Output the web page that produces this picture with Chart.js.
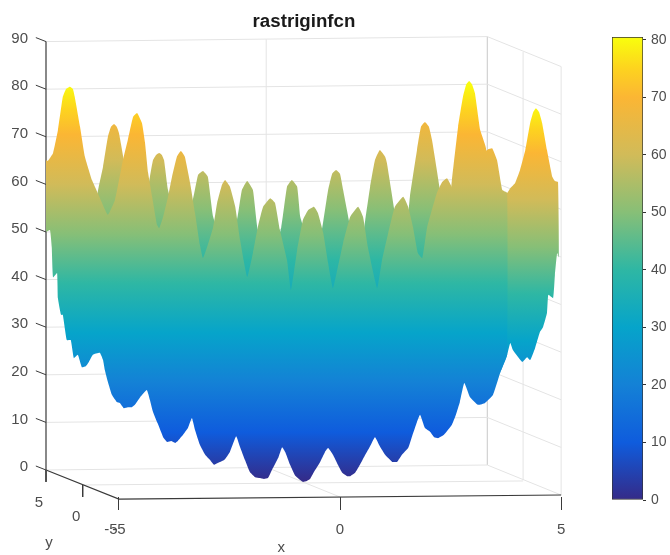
<!DOCTYPE html>
<html>
<head>
<meta charset="utf-8">
<title>rastriginfcn</title>
<script src="https://cdn.jsdelivr.net/npm/chart.js@4"></script>
<style>
  html, body { margin: 0; background: #fff; }
  #surface { position: absolute; left: 0; top: 0; }
  #colorbar { position: absolute; left: 608px; top: 0; }
</style>
</head>
<body>
<canvas id="surface" width="608" height="555"></canvas>
<canvas id="colorbar" width="62" height="555"></canvas>
<script>
// ticks
const zTicks = [0, 10, 20, 30, 40, 50, 60, 70, 80, 90];
const xTicks = [-5, 0, 5];
const colorTicks = [0, 10, 20, 30, 40, 50, 60, 70, 80];
const colorbarRange = [0, 80.5];

// labels of the depth axis (x position, z position)
const depthLabels = ['5', '0', '-5', 'y', 'x'];
const depthLabelX = [-6.81, -5.97, -5.18, -6.58, -1.33];
const depthLabelZ = [-6.9, -9.9, -12.6, -15.3, -16.4];

// front ridge and the whole lower outline of the surface
const frontX = [-6.65, -6.61, -6.49, -6.38, -6.27, -6.20, -6.11, -6.04, -6.00, -5.88, -5.77, -5.61, -5.48, -5.25, -5.09, -4.91, -4.80, -4.68, -4.59, -4.48, -4.41, -4.34, -4.25, -4.14, -4.09, -4.00, -3.89, -3.80, -3.69, -3.60, -3.51, -3.39, -3.28, -3.17, -3.10, -2.99, -2.87, -2.78, -2.67, -2.60, -2.49, -2.37, -2.26, -2.10, -1.97, -1.86, -1.74, -1.58, -1.47, -1.36, -1.20, -1.11, -0.97, -0.84, -0.72, -0.59, -0.50, -0.38, -0.27, -0.16, -0.05, 0.07, 0.23, 0.41, 0.52, 0.63, 0.84, 0.95, 1.09, 1.24, 1.43, 1.54, 1.65, 1.76, 1.86, 1.97, 2.19, 2.31, 2.42, 2.56, 2.67, 2.78, 2.90, 3.10, 3.24, 3.35, 3.44, 3.55, 3.67, 3.78,
  3.78, 3.62, 3.46, 3.28, 3.12, 2.94, 2.81, 2.71, 2.62, 2.53, 2.35, 2.22, 2.13, 2.04, 1.92, 1.81, 1.74, 1.63, 1.54, 1.40, 1.29, 1.18, 1.09, 1.02, 0.90, 0.79, 0.68, 0.57, 0.45, 0.34, 0.23, 0.16, 0.05, -0.05, -0.16, -0.27, -0.34, -0.45, -0.59, -0.68, -0.75, -0.84, -0.90, -1.02, -1.13, -1.24, -1.31, -1.40, -1.54, -1.63, -1.72, -1.81, -1.92, -2.04, -2.15, -2.26, -2.35, -2.49, -2.62, -2.76, -2.85, -2.94, -3.05, -3.17, -3.28, -3.35, -3.44, -3.55, -3.67, -3.73, -3.82, -3.91, -4.00, -4.12, -4.23, -4.30, -4.37, -4.52, -4.64, -4.71, -4.80, -4.89, -4.98, -5.05, -5.16, -5.25, -5.32, -5.36, -5.43, -5.59, -5.68, -5.75, -5.84, -5.93, -6.02, -6.09, -6.18, -6.27, -6.31, -6.38, -6.40, -6.49, -6.52, -6.56, -6.65];
const frontZ = [65.1, 64.9, 66.6, 71.4, 78.4, 80.0, 80.5, 80.0, 78.4, 72.1, 65.8, 60.9, 58.2, 53.6, 56.7, 65.1, 69.3, 74.2, 75.0, 72.9, 68.7, 62.4, 57.4, 51.5, 50.8, 53.2, 57.4, 61.6, 65.8, 67.0, 65.8, 60.3, 54.0, 47.3, 44.5, 47.3, 51.0, 56.1, 59.9, 60.9, 59.5, 55.3, 48.3, 40.5, 45.6, 51.0, 55.3, 57.1, 56.1, 50.4, 44.1, 37.8, 46.2, 52.5, 54.6, 55.3, 54.0, 49.8, 43.5, 38.2, 42.6, 47.7, 53.2, 55.3, 53.2, 46.8, 38.2, 44.1, 49.8, 55.3, 57.4, 55.3, 51.0, 45.6, 44.5, 51.0, 58.2, 60.5, 61.3, 58.8, 53.2, 49.8, 53.2, 60.9, 66.6, 67.4, 67.6, 65.1, 58.8, 58.2,
  24.2, 20.4, 15.8, 14.1, 13.7, 15.3, 18.3, 14.3, 11.6, 9.5, 7.4, 6.7, 6.9, 8.0, 8.8, 11.6, 10.1, 7.1, 4.6, 3.2, 1.7, 1.7, 2.5, 3.2, 5.0, 6.9, 5.0, 3.2, 1.1, -0.6, -1.3, -1.3, -0.6, 1.1, 3.2, 4.6, 3.8, 1.7, -0.4, -1.9, -2.3, -2.5, -2.1, -1.1, 1.1, 3.8, 4.8, 2.5, 0, -1.7, -1.9, -1.7, -1.5, -0.4, 2.1, 4.8, 7.1, 3.8, 2.1, 1.5, 1.1, 2.1, 3.2, 5.3, 8.4, 10.9, 8.8, 7.4, 6.1, 5.7, 6.1, 5.9, 6.9, 9.7, 12.2, 14.7, 16.8, 15.3, 13.7, 13.2, 13.2, 13.0, 14.1, 14.3, 15.8, 18.5, 21.0, 23.1, 24.6, 24.2, 22.7, 21.8, 21.6, 24.2, 23.5, 27.3, 27.3, 32.6, 32.6, 36.1, 41.4, 40.5, 46.8, 50.4, 50.0];

// right hand lobe
const rightX = [3.62, 3.78, 3.85, 3.96, 4.07, 4.19, 4.30, 4.37, 4.43, 4.50, 4.57, 4.68, 4.80, 4.86, 4.93, 4.95, 4.91, 4.86, 4.82, 4.71, 4.68, 4.59, 4.52, 4.41, 4.30, 4.23, 4.12, 3.91, 3.85, 3.78, 3.62];
const rightZ = [56.7, 58.2, 59.2, 60.3, 63.0, 67.2, 72.9, 75.2, 76.0, 75.2, 72.9, 67.2, 61.6, 60.7, 60.5, 44.7, 45.6, 41.0, 36.1, 36.8, 33.0, 30.0, 29.0, 25.6, 23.1, 23.7, 22.7, 25.2, 26.7, 24.2, 20.4];

// tallest peak behind the front ridge
const peakX = [2.38, 2.53, 2.67, 2.78, 2.85, 2.92, 2.99, 3.05, 3.17, 3.30, 3.44, 2.94];
const peakZ = [46.2, 60.9, 72.1, 78.4, 80.9, 81.7, 80.9, 79.2, 71.4, 67.6, 46.2, 25.2];

// back ridge
const backX = [-5.52, -5.48, -5.36, -5.25, -5.18, -5.11, -5.05, -5.00, -4.89, -4.75, -4.52, -4.30, -4.23, -4.16, -4.09, -4.03, -3.98, -3.89, -3.60, -3.33, -3.21, -3.10, -2.99, -2.87, -2.60, -2.33, -2.22, -2.10, -1.97, -1.86, -1.58, -1.33, -1.20, -1.09, -0.97, -0.90, -0.79, -0.59, -0.41, -0.27, -0.18, -0.09, 0, 0.07, 0.23, 0.41, 0.57, 0.68, 0.79, 0.90, 1.02, 1.06, 1.24, 1.43, 1.58, 1.74, 1.83, 1.92, 2.01, 2.08, 2.26, 2.42, 2.42, -5.52];
const backZ = [35.7, 58.2, 63.7, 70.0, 72.1, 72.7, 72.1, 70.8, 65.1, 54.6, 50.4, 61.6, 65.1, 66.2, 66.6, 66.2, 65.1, 58.8, 49.4, 56.7, 62.0, 62.8, 61.6, 53.2, 46.2, 52.5, 58.8, 60.7, 58.8, 50.4, 43.1, 51.0, 59.5, 60.9, 59.5, 53.2, 49.8, 42.0, 50.4, 58.8, 62.2, 63.0, 62.2, 58.8, 51.0, 42.0, 52.5, 59.5, 65.1, 67.2, 65.8, 64.5, 54.0, 43.1, 57.4, 67.2, 72.1, 73.1, 72.1, 69.3, 58.8, 47.3, 25.2, 25.2];

// 3D box, seen as x position and z height on the page
const wallX = [-6.65, 3.33, 5];
const wallTilt = [0, 1.05, -5.25];
const verticalX = [-1.67, 3.33, 4.14, 5];
const verticalLow = [0.6, 1.05, -2.1, -5.25];
const verticalHigh = [90.5, 91.05, 87.8, 84.75];
const floorMidX = [-5.82, 4.14];
const floorMidZ = [-3.15, -2.3];
const floorZeroX = [-1.67, 0];
const floorZeroZ = [0.6, -5.67];
const frontAxisX = [-6.65, -5, 5];
const frontAxisZ = [0, -6.1, -5.25];
const depthTickX = [-6.65, -5.82];
const depthTickTop = [0, -3.15];
const depthTickLow = [-2.5, -5.67];

// colour of a value
const colormap = [[0, '#352a87'], [10, '#0f5cdd'], [20, '#1481d6'], [30, '#06a4ca'], [40, '#2eb7a4'], [50, '#87bf77'], [60, '#d1bb59'], [70, '#fbb634'], [75, '#fdd31f'], [80, '#f9fb0e']];

const inkGrid = '#e4e4e4';
const inkWall = '#c9c9c9';
const inkAxis = '#3a3a3a';
const inkText = '#4d4d4d';
const fontName = '"Liberation Sans", Arial, sans-serif';

// low and high are the heights where the colour map starts and ends on this layer
function zGradient(ctx, low, high) {
    const chart = ctx.chart;
    if (!chart.chartArea) return '#000';
    const sc = chart.scales.y;
    const g = chart.ctx.createLinearGradient(0, sc.getPixelForValue(low), 0, sc.getPixelForValue(high));
    colormap.forEach(s => g.addColorStop(s[0] / 80, s[1]));
    return g;
}

function points(xs, zs) {
    return xs.map((x, i) => ({ x: x, y: zs[i] }));
}

function surface(xs, zs, low, high) {
    return {
        data: points(xs, zs),
        showLine: true,
        fill: 'shape',
        tension: 0.12,
        borderWidth: 0,
        pointRadius: 0,
        backgroundColor: ctx => zGradient(ctx, low, high),
        clip: false
    };
}

function stroke(xs, zs, color, width) {
    return {
        data: points(xs, zs),
        showLine: true,
        fill: false,
        borderColor: color,
        borderWidth: width,
        pointRadius: 0,
        clip: false
    };
}

// first dataset is drawn on top
const datasets = [
    surface(frontX, frontZ, -2.5, 80.9),
    surface(rightX, rightZ, -2.5, 76.5),
    surface(peakX, peakZ, -2.5, 80.9),
    surface(backX, backZ, 2.5, 85.9),
    stroke([wallX[0], wallX[0]], [0, 90], inkAxis, 1.2),
    stroke(frontAxisX, frontAxisZ, inkAxis, 1.2)
];
zTicks.forEach(t => {
    datasets.push(stroke([wallX[0] - 0.23, wallX[0]], [t + 0.84, t], inkAxis, 1));
    datasets.push(stroke(wallX, wallTilt.map(d => t + d), inkGrid, 1));
});
depthTickX.forEach((x, i) => {
    datasets.push(stroke([x, x], [depthTickTop[i], depthTickLow[i]], inkAxis, 1));
});
verticalX.forEach((x, i) => {
    datasets.push(stroke([x, x], [verticalLow[i], verticalHigh[i]], i === 1 ? inkWall : inkGrid, 1));
});
datasets.push(stroke(floorMidX, floorMidZ, inkGrid, 1));
datasets.push(stroke(floorZeroX, floorZeroZ, inkGrid, 1));

const depthText = {
    id: 'depthText',
    afterDraw(chart) {
        const c = chart.ctx;
        c.save();
        c.fillStyle = inkText;
        c.font = '15px ' + fontName;
        c.textAlign = 'center';
        c.textBaseline = 'middle';
        depthLabels.forEach((t, i) => {
            c.fillText(t, chart.scales.x.getPixelForValue(depthLabelX[i]), chart.scales.y.getPixelForValue(depthLabelZ[i]));
        });
        c.restore();
    }
};

new Chart(document.getElementById('surface'), {
    type: 'scatter',
    data: { datasets: datasets },
    plugins: [depthText],
    options: {
        responsive: false,
        animation: false,
        plugins: {
            legend: { display: false },
            tooltip: { enabled: false },
            title: {
                display: true,
                text: 'rastriginfcn',
                color: '#1a1a1a',
                font: { family: fontName, size: 18.7, weight: 'bold' },
                padding: { top: 11, bottom: 4 }
            }
        },
        scales: {
            x: {
                type: 'linear',
                min: -6.65,
                max: 6.06,
                afterBuildTicks: s => { s.ticks = xTicks.map(v => ({ value: v })); },
                afterFit: s => { s.height = 58; },
                border: { display: false },
                grid: { drawOnChartArea: false, tickLength: 13, tickColor: inkAxis },
                ticks: { padding: 11, maxRotation: 0, color: inkText, font: { family: fontName, size: 15 } }
            },
            y: {
                type: 'linear',
                min: -5.67,
                max: 90.87,
                afterBuildTicks: s => { s.ticks = zTicks.map(v => ({ value: v })); },
                afterFit: s => { s.width = 46; },
                border: { display: false },
                grid: { display: false },
                ticks: { padding: 10, labelOffset: -3, color: inkText, font: { family: fontName, size: 15 } }
            }
        }
    }
});

new Chart(document.getElementById('colorbar'), {
    type: 'bar',
    data: {
        labels: ['value'],
        datasets: [{
            data: [colorbarRange],
            barPercentage: 1,
            categoryPercentage: 1,
            borderColor: '#333',
            borderWidth: 1,
            borderSkipped: false,
            backgroundColor: ctx => zGradient(ctx, 0, 80)
        }]
    },
    options: {
        responsive: false,
        animation: false,
        layout: { padding: { left: 4, top: 37, bottom: 55 } },
        plugins: { legend: { display: false }, tooltip: { enabled: false } },
        scales: {
            x: { display: false },
            y: {
                position: 'right',
                min: colorbarRange[0],
                max: colorbarRange[1],
                afterBuildTicks: s => { s.ticks = colorTicks.map(v => ({ value: v })); },
                afterFit: s => { s.width = 27; },
                border: { display: false },
                grid: { drawOnChartArea: false, tickLength: 3, tickColor: '#333' },
                ticks: { padding: 5, color: inkText, font: { family: fontName, size: 14 } }
            }
        }
    }
});
</script>
</body>
</html>
